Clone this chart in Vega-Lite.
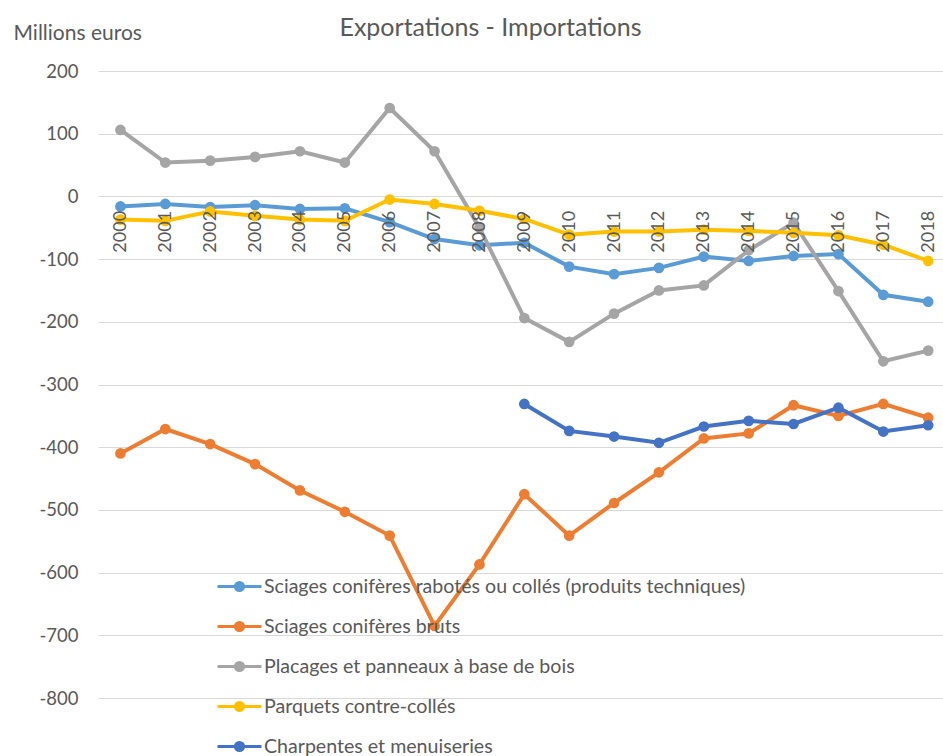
{
  "$schema": "https://vega.github.io/schema/vega-lite/v6.json",
  "autosize": "none",
  "width": 845,
  "height": 627,
  "padding": {"left": 98, "top": 71, "right": 0, "bottom": 58},
  "background": "white",
  "config": {
    "font": "Lato",
    "view": {"stroke": null}
  },
  "title": {
    "text": "Exportations - Importations",
    "fontSize": 25,
    "fontWeight": "normal",
    "color": "#595959",
    "frame": "group",
    "anchor": "middle",
    "dx": -30,
    "offset": -19
  },
  "data": {
    "values": [
      {"annee": 2000, "serie": "Sciages conifères rabotés ou collés (produits techniques)", "valeur": -16},
      {"annee": 2001, "serie": "Sciages conifères rabotés ou collés (produits techniques)", "valeur": -12},
      {"annee": 2002, "serie": "Sciages conifères rabotés ou collés (produits techniques)", "valeur": -17},
      {"annee": 2003, "serie": "Sciages conifères rabotés ou collés (produits techniques)", "valeur": -14},
      {"annee": 2004, "serie": "Sciages conifères rabotés ou collés (produits techniques)", "valeur": -20},
      {"annee": 2005, "serie": "Sciages conifères rabotés ou collés (produits techniques)", "valeur": -19},
      {"annee": 2006, "serie": "Sciages conifères rabotés ou collés (produits techniques)", "valeur": -41},
      {"annee": 2007, "serie": "Sciages conifères rabotés ou collés (produits techniques)", "valeur": -68},
      {"annee": 2008, "serie": "Sciages conifères rabotés ou collés (produits techniques)", "valeur": -78},
      {"annee": 2009, "serie": "Sciages conifères rabotés ou collés (produits techniques)", "valeur": -74},
      {"annee": 2010, "serie": "Sciages conifères rabotés ou collés (produits techniques)", "valeur": -112},
      {"annee": 2011, "serie": "Sciages conifères rabotés ou collés (produits techniques)", "valeur": -124},
      {"annee": 2012, "serie": "Sciages conifères rabotés ou collés (produits techniques)", "valeur": -114},
      {"annee": 2013, "serie": "Sciages conifères rabotés ou collés (produits techniques)", "valeur": -96},
      {"annee": 2014, "serie": "Sciages conifères rabotés ou collés (produits techniques)", "valeur": -103},
      {"annee": 2015, "serie": "Sciages conifères rabotés ou collés (produits techniques)", "valeur": -95},
      {"annee": 2016, "serie": "Sciages conifères rabotés ou collés (produits techniques)", "valeur": -92},
      {"annee": 2017, "serie": "Sciages conifères rabotés ou collés (produits techniques)", "valeur": -157},
      {"annee": 2018, "serie": "Sciages conifères rabotés ou collés (produits techniques)", "valeur": -168},

      {"annee": 2000, "serie": "Sciages conifères bruts", "valeur": -410},
      {"annee": 2001, "serie": "Sciages conifères bruts", "valeur": -371},
      {"annee": 2002, "serie": "Sciages conifères bruts", "valeur": -395},
      {"annee": 2003, "serie": "Sciages conifères bruts", "valeur": -427},
      {"annee": 2004, "serie": "Sciages conifères bruts", "valeur": -469},
      {"annee": 2005, "serie": "Sciages conifères bruts", "valeur": -503},
      {"annee": 2006, "serie": "Sciages conifères bruts", "valeur": -541},
      {"annee": 2007, "serie": "Sciages conifères bruts", "valeur": -685},
      {"annee": 2008, "serie": "Sciages conifères bruts", "valeur": -587},
      {"annee": 2009, "serie": "Sciages conifères bruts", "valeur": -475},
      {"annee": 2010, "serie": "Sciages conifères bruts", "valeur": -541},
      {"annee": 2011, "serie": "Sciages conifères bruts", "valeur": -489},
      {"annee": 2012, "serie": "Sciages conifères bruts", "valeur": -440},
      {"annee": 2013, "serie": "Sciages conifères bruts", "valeur": -386},
      {"annee": 2014, "serie": "Sciages conifères bruts", "valeur": -378},
      {"annee": 2015, "serie": "Sciages conifères bruts", "valeur": -333},
      {"annee": 2016, "serie": "Sciages conifères bruts", "valeur": -350},
      {"annee": 2017, "serie": "Sciages conifères bruts", "valeur": -331},
      {"annee": 2018, "serie": "Sciages conifères bruts", "valeur": -353},

      {"annee": 2000, "serie": "Placages et panneaux à base de bois", "valeur": 106},
      {"annee": 2001, "serie": "Placages et panneaux à base de bois", "valeur": 54},
      {"annee": 2002, "serie": "Placages et panneaux à base de bois", "valeur": 57},
      {"annee": 2003, "serie": "Placages et panneaux à base de bois", "valeur": 63},
      {"annee": 2004, "serie": "Placages et panneaux à base de bois", "valeur": 72},
      {"annee": 2005, "serie": "Placages et panneaux à base de bois", "valeur": 54},
      {"annee": 2006, "serie": "Placages et panneaux à base de bois", "valeur": 141},
      {"annee": 2007, "serie": "Placages et panneaux à base de bois", "valeur": 72},
      {"annee": 2008, "serie": "Placages et panneaux à base de bois", "valeur": -50},
      {"annee": 2009, "serie": "Placages et panneaux à base de bois", "valeur": -194},
      {"annee": 2010, "serie": "Placages et panneaux à base de bois", "valeur": -232},
      {"annee": 2011, "serie": "Placages et panneaux à base de bois", "valeur": -187},
      {"annee": 2012, "serie": "Placages et panneaux à base de bois", "valeur": -150},
      {"annee": 2013, "serie": "Placages et panneaux à base de bois", "valeur": -142},
      {"annee": 2014, "serie": "Placages et panneaux à base de bois", "valeur": -86},
      {"annee": 2015, "serie": "Placages et panneaux à base de bois", "valeur": -42},
      {"annee": 2016, "serie": "Placages et panneaux à base de bois", "valeur": -151},
      {"annee": 2017, "serie": "Placages et panneaux à base de bois", "valeur": -263},
      {"annee": 2018, "serie": "Placages et panneaux à base de bois", "valeur": -246},

      {"annee": 2000, "serie": "Parquets contre-collés", "valeur": -37},
      {"annee": 2001, "serie": "Parquets contre-collés", "valeur": -39},
      {"annee": 2002, "serie": "Parquets contre-collés", "valeur": -24},
      {"annee": 2003, "serie": "Parquets contre-collés", "valeur": -31},
      {"annee": 2004, "serie": "Parquets contre-collés", "valeur": -37},
      {"annee": 2005, "serie": "Parquets contre-collés", "valeur": -39},
      {"annee": 2006, "serie": "Parquets contre-collés", "valeur": -5},
      {"annee": 2007, "serie": "Parquets contre-collés", "valeur": -12},
      {"annee": 2008, "serie": "Parquets contre-collés", "valeur": -23},
      {"annee": 2009, "serie": "Parquets contre-collés", "valeur": -36},
      {"annee": 2010, "serie": "Parquets contre-collés", "valeur": -61},
      {"annee": 2011, "serie": "Parquets contre-collés", "valeur": -56},
      {"annee": 2012, "serie": "Parquets contre-collés", "valeur": -56},
      {"annee": 2013, "serie": "Parquets contre-collés", "valeur": -53},
      {"annee": 2014, "serie": "Parquets contre-collés", "valeur": -55},
      {"annee": 2015, "serie": "Parquets contre-collés", "valeur": -58},
      {"annee": 2016, "serie": "Parquets contre-collés", "valeur": -62},
      {"annee": 2017, "serie": "Parquets contre-collés", "valeur": -77},
      {"annee": 2018, "serie": "Parquets contre-collés", "valeur": -103},

      {"annee": 2009, "serie": "Charpentes et menuiseries", "valeur": -331},
      {"annee": 2010, "serie": "Charpentes et menuiseries", "valeur": -374},
      {"annee": 2011, "serie": "Charpentes et menuiseries", "valeur": -383},
      {"annee": 2012, "serie": "Charpentes et menuiseries", "valeur": -393},
      {"annee": 2013, "serie": "Charpentes et menuiseries", "valeur": -367},
      {"annee": 2014, "serie": "Charpentes et menuiseries", "valeur": -358},
      {"annee": 2015, "serie": "Charpentes et menuiseries", "valeur": -363},
      {"annee": 2016, "serie": "Charpentes et menuiseries", "valeur": -337},
      {"annee": 2017, "serie": "Charpentes et menuiseries", "valeur": -375},
      {"annee": 2018, "serie": "Charpentes et menuiseries", "valeur": -365}
    ]
  },
  "encoding": {
    "x": {
      "field": "annee",
      "type": "quantitative",
      "scale": {"domain": [1999.5, 2018.33], "nice": false, "zero": false},
      "axis": {
        "title": null,
        "orient": "bottom",
        "offset": -501.6,
        "values": [2000, 2001, 2002, 2003, 2004, 2005, 2006, 2007, 2008, 2009, 2010, 2011, 2012, 2013, 2014, 2015, 2016, 2017, 2018],
        "format": "d",
        "labelAngle": -90,
        "labelPadding": 14,
        "labelFlush": false,
        "labelOverlap": false,
        "labelFontSize": 18,
        "labelColor": "#595959",
        "ticks": false,
        "domain": false,
        "grid": false,
        "zindex": 1
      }
    },
    "y": {
      "field": "valeur",
      "type": "quantitative",
      "scale": {"domain": [-800, 200], "nice": false},
      "axis": {
        "title": "Millions euros",
        "titleAngle": 0,
        "titleAlign": "left",
        "titleBaseline": "alphabetic",
        "titleX": -85,
        "titleY": -32,
        "titleFontSize": 21,
        "titleFontWeight": "normal",
        "titleColor": "#595959",
        "values": [-800, -700, -600, -500, -400, -300, -200, -100, 0, 100, 200],
        "labelExpr": "replace(datum.label, '−', '-')",
        "labelFontSize": 18.5,
        "labelColor": "#595959",
        "labelPadding": 20,
        "ticks": false,
        "domain": false,
        "grid": true,
        "gridColor": "#D9D9D9",
        "gridWidth": 1.2,
        "zindex": 0
      }
    },
    "color": {
      "field": "serie",
      "type": "nominal",
      "sort": [
        "Sciages conifères rabotés ou collés (produits techniques)",
        "Sciages conifères bruts",
        "Placages et panneaux à base de bois",
        "Parquets contre-collés",
        "Charpentes et menuiseries"
      ],
      "scale": {
        "domain": [
          "Sciages conifères rabotés ou collés (produits techniques)",
          "Sciages conifères bruts",
          "Placages et panneaux à base de bois",
          "Parquets contre-collés",
          "Charpentes et menuiseries"
        ],
        "range": ["#5B9BD5", "#ED7D31", "#A5A5A5", "#FFC000", "#4472C4"]
      },
      "legend": {
        "title": null,
        "orient": "none",
        "legendX": 125,
        "legendY": 499,
        "padding": 0,
        "symbolType": "M-1.5,0H1.5M-0.28,0A0.28,0.28,0,1,1,0.28,0A0.28,0.28,0,1,1,-0.28,0Z",
        "symbolSize": 860,
        "symbolStrokeWidth": 3,
        "labelFontSize": 19.6,
        "labelColor": "#595959",
        "labelLimit": 0,
        "labelOffset": 8,
        "rowPadding": 13,
        "encode": {
          "symbols": {
            "update": {
              "fill": {"scale": "color", "field": "value"},
              "stroke": {"scale": "color", "field": "value"},
              "opacity": {"value": 1}
            }
          }
        }
      }
    }
  },
  "layer": [
    {"mark": {"type": "line", "strokeWidth": 4}},
    {"mark": {"type": "circle", "size": 115, "opacity": 1}}
  ]
}
